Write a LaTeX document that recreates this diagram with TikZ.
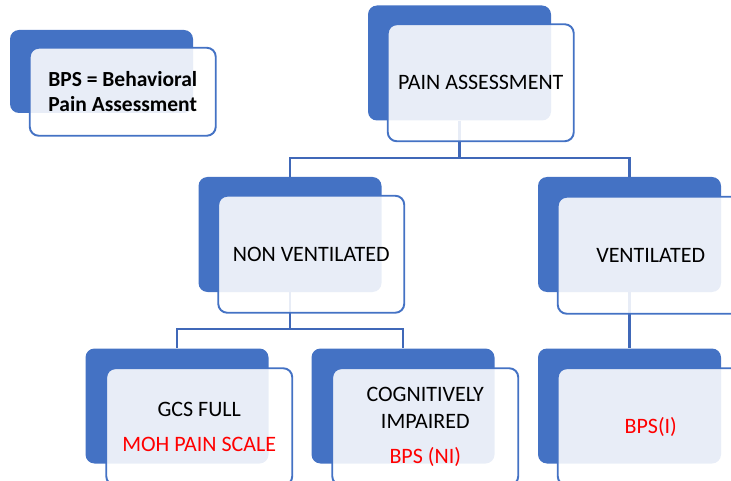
\documentclass[tikz,border=0pt]{standalone}
\usepackage{fontspec}
\setmainfont{Carlito}
\usetikzlibrary{positioning}
\definecolor{smblue}{HTML}{4472C4}
\definecolor{linkblue}{HTML}{4068B8}
\definecolor{txtred}{HTML}{FF0000}

\begin{document}
\begin{tikzpicture}[
        x=1pt, y=-1pt,
        backbox/.style={rectangle, rounded corners=9pt, fill=smblue, inner sep=0pt,
            minimum width=183pt, minimum height=115pt},
        frontbox/.style={rectangle, rounded corners=9pt, draw=smblue, line width=1.9pt,
            fill=white, fill opacity=0.88, text opacity=1, inner sep=0pt, align=center,
            minimum width=186pt, minimum height=117pt, font=\fontsize{22}{27}\selectfont},
        link/.style={draw=linkblue, line width=2.3pt}
    ]
        \useasboundingbox (0,0) rectangle (731,481);

        % hintere Kaesten
        \path
            (101.5,71.5) node[backbox, minimum height=83pt] (key) {}
            (459.5,63)   node[backbox] (pa)   {}
            (290,234.5)  node[backbox] (nv)   {}
            (629.5,234.5) node[backbox] (ve)  {}
            (177,406)    node[backbox] (gcs)  {}
            (403,406)    node[backbox] (cog)  {}
            (629.5,406)  node[backbox] (bpsi) {};

        % Verbindungen
        \draw[link] (pa.south) -- ++(0,37) coordinate (paJ) -| (nv.north);
        \draw[link] (paJ) -| (ve.north);
        \draw[link] (nv.south) -- ++(0,37) coordinate (nvJ) -| (gcs.north);
        \draw[link] (nvJ) -| (cog.north);
        \draw[link] (ve.south) -- (bpsi.north);

        % vordere Kaesten mit Text
        \node[frontbox, minimum height=88pt, font=\fontsize{21.5}{25}\selectfont\bfseries,
            below right=17pt and 19pt of key.north west] (keyT) {BPS = Behavioral\\Pain Assessment};
        \node[frontbox, below right=18pt and 19pt of pa.north west] (paT) {PAIN ASSESSMENT};
        \node[frontbox, below right=18pt and 19pt of nv.north west] (nvT) {NON VENTILATED};
        \node[frontbox, below right=19pt and 19pt of ve.north west] (veT) {VENTILATED};
        \node[frontbox, below right=19pt and 20pt of gcs.north west] (gcsT)
            {GCS FULL\\[8pt]\textcolor{txtred}{MOH PAIN SCALE}};
        \node[frontbox, below right=19pt and 20pt of cog.north west] (cogT)
            {COGNITIVELY\\IMPAIRED\\[8pt]\textcolor{txtred}{BPS (NI)}};
        \node[frontbox, below right=19pt and 19pt of bpsi.north west] (bpsiT)
            {\textcolor{txtred}{BPS(I)}};
    \end{tikzpicture}
\end{document}
